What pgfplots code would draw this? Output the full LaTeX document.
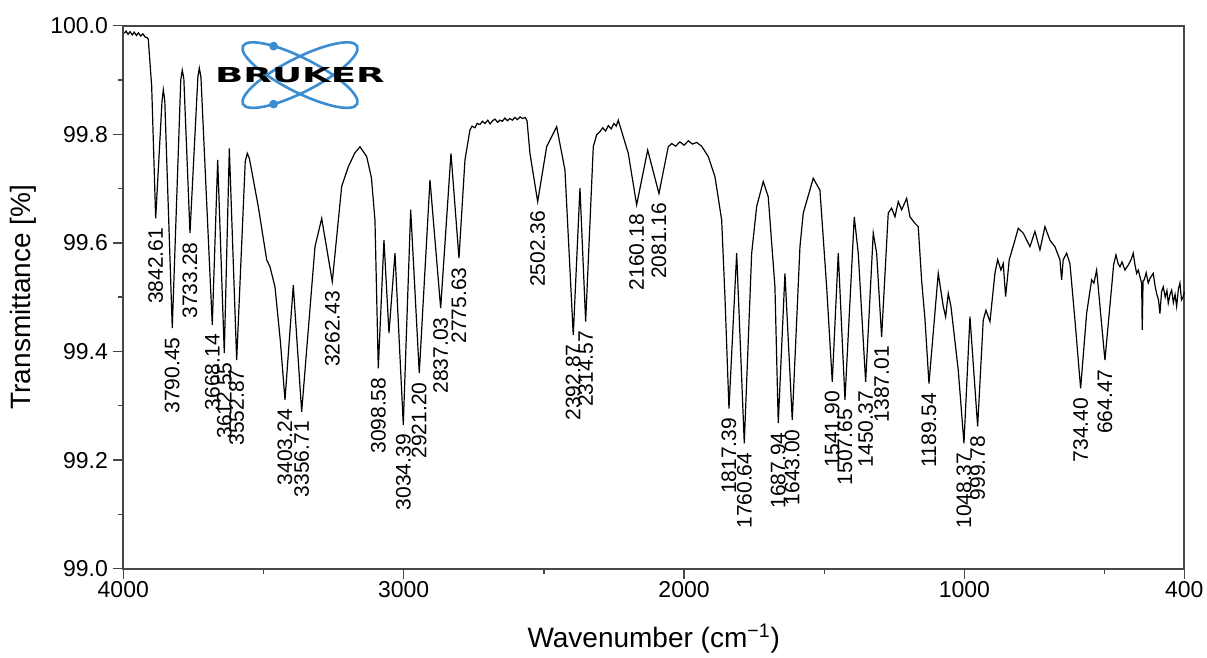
\documentclass[border=0pt]{standalone}
\usepackage{fontspec}
\setmainfont{Liberation Sans}
\newfontfamily\logofont{DejaVu Sans}
\usepackage{graphicx}
\usepackage{pgfplots}
\pgfplotsset{compat=1.18}
\usepackage{pgfplotstable}

\definecolor{logoblue}{RGB}{60,140,210}
\definecolor{axisgray}{RGB}{70,70,70}
\tikzset{lbl/.style={rotate=90, anchor=east, inner sep=0pt, font=\fontsize{10.5}{12}\selectfont}}

% wavenumber (as drawn on the linear axis) and transmittance
\pgfplotstableread{
wn T
3996.4 99.986
3990 99.990
3983 99.984
3976 99.989
3968 99.983
3961 99.988
3953 99.982
3946 99.987
3938 99.981
3930 99.985
3922 99.979
3915 99.978
3910.8 99.975
3898.7 99.888
3884.5 99.645
3862 99.860
3857.3 99.882
3852 99.862
3825.3 99.443
3795 99.900
3789.6 99.918
3784 99.902
3762.1 99.618
3734 99.905
3728.9 99.922
3723 99.905
3682.6 99.449
3663.3 99.753
3639.8 99.397
3621.8 99.774
3595.6 99.384
3565 99.750
3557.8 99.765
3550 99.755
3518.6 99.667
3488.6 99.569
3476.8 99.556
3459.0 99.519
3440 99.420
3423.3 99.311
3393.7 99.522
3363.8 99.289
3316.3 99.593
3292.4 99.645
3254.6 99.529
3221.1 99.704
3197.6 99.740
3175 99.765
3155.9 99.777
3131.9 99.759
3115 99.720
3102.4 99.642
3090.6 99.369
3070.3 99.605
3052.4 99.434
3031.0 99.581
3001.4 99.265
2975.0 99.661
2944.4 99.360
2906.2 99.716
2868.1 99.480
2831.3 99.765
2802.8 99.572
2781.4 99.753
2763.6 99.808
2756 99.815
2746 99.812
2738 99.820
2728 99.818
2719 99.824
2710 99.820
2700 99.826
2692 99.819
2683 99.825
2674 99.828
2665 99.822
2657 99.826
2648 99.824
2639 99.830
2630 99.825
2621 99.829
2612 99.826
2603 99.831
2594 99.827
2585 99.832
2576 99.829
2567 99.831
2560 99.825
2549.7 99.765
2522.1 99.676
2490.1 99.777
2454.4 99.814
2424.8 99.734
2395.2 99.430
2371.3 99.701
2351.0 99.455
2323.8 99.777
2311.7 99.799
2300 99.805
2290 99.812
2280 99.806
2270 99.816
2260 99.810
2250 99.820
2242 99.815
2234.7 99.826
2199.0 99.765
2169.1 99.670
2129.8 99.771
2089.6 99.691
2056.4 99.777
2044 99.783
2030 99.778
2015 99.786
2000 99.780
1985 99.788
1970 99.782
1955 99.785
1937.3 99.778
1913.7 99.759
1889.8 99.722
1865.9 99.642
1854.1 99.500
1839.9 99.295
1812.4 99.581
1785.3 99.231
1758.9 99.581
1741.1 99.667
1717.6 99.713
1699.8 99.685
1675.9 99.519
1664.1 99.268
1640.2 99.544
1614.2 99.274
1586.7 99.593
1574.9 99.655
1539.3 99.719
1515.4 99.697
1491.5 99.519
1471.5 99.344
1450.1 99.581
1426.2 99.311
1393.0 99.648
1378.8 99.581
1352.4 99.344
1325.3 99.618
1313.2 99.581
1295.4 99.427
1271.8 99.655
1259.7 99.664
1247.9 99.648
1236.1 99.676
1224.0 99.661
1206.2 99.682
1194.4 99.648
1176.6 99.636
1164.8 99.630
1152.7 99.530
1140.9 99.460
1126.6 99.341
1093.5 99.544
1075.6 99.483
1067.1 99.464
1057.8 99.507
1048.2 99.483
1022.2 99.366
1001.8 99.231
980.4 99.464
953.0 99.262
933.0 99.458
923.3 99.476
909.1 99.455
891.3 99.544
881.7 99.569
869.9 99.550
861.7 99.562
853.2 99.501
840.3 99.569
820.0 99.605
808.2 99.627
790.3 99.618
766.5 99.593
748.7 99.621
730.8 99.587
713.0 99.630
695.2 99.605
677.4 99.593
659.5 99.569
653.5 99.532
647.8 99.569
635.6 99.581
623.9 99.562
606.0 99.458
585.7 99.332
564.3 99.470
546.5 99.532
538.3 99.526
528.6 99.550
499.0 99.384
475.1 99.519
468 99.560
459.8 99.578
452 99.562
445.5 99.556
438 99.565
427.7 99.550
420 99.556
415.9 99.559
405 99.570
398.1 99.581
392 99.560
386.0 99.544
380 99.550
374.2 99.538
368 99.525
366.0 99.440
363 99.530
358.8 99.532
352 99.545
344.6 99.526
338 99.535
326.8 99.544
320 99.520
314.7 99.507
308 99.495
302.9 99.470
297 99.510
291.0 99.519
284 99.500
278 99.512
273.2 99.489
267 99.505
261.1 99.513
255 99.490
249 99.505
243.3 99.483
237 99.515
231.5 99.526
226 99.495
219.7 99.501
216 99.510
}\spectrum

\begin{document}
\begin{tikzpicture}
\begin{axis}[
  scale only axis, width=530.5pt, height=271.5pt,
  x dir=reverse, xmin=216, xmax=4000, ymin=99.0, ymax=100.0,
  xtick={216,1000,2000,3000,4000}, xticklabels={400,1000,2000,3000,4000},
  minor xtick={500,1500,2500,3500},
  ytick={99,99.2,99.4,99.6,99.8,100}, minor ytick={99.1,99.3,99.5,99.7,99.9},
  xtick pos=bottom, ytick pos=left,
  tick align=outside, major tick length=5pt, minor tick length=2.5pt,
  axis line style={line width=1pt, axisgray},
  every tick/.style={line width=0.7pt, axisgray},
  tick label style={font=\fontsize{11.5}{13}\selectfont},
  xticklabel style={inner sep=1pt},
  yticklabel style={inner sep=2.5pt, /pgf/number format/.cd, fixed, fixed zerofill, precision=1},
  /pgf/number format/assume math mode=true,
  xlabel={Wavenumber (cm\textsuperscript{−1})},
  ylabel={Transmittance [\%]},
  label style={font=\fontsize{14}{16}\selectfont},
  xlabel style={at={(axis description cs:0.5,-0.146)}, anchor=base, inner sep=0pt},
  ylabel style={at={(axis description cs:-0.0816,0.5)}, anchor=south, inner sep=0pt},
  clip=false,
]
\addplot[black, line width=0.6pt] table[x=wn, y=T] {\spectrum};

\node[lbl] at ([yshift=-4.5pt]axis cs:3884.5,99.645) {3842.61};
\node[lbl] at ([yshift=-4.5pt]axis cs:3825.3,99.443) {3790.45};
\node[lbl] at ([yshift=-4.5pt]axis cs:3762.1,99.618) {3733.28};
\node[lbl] at ([yshift=-4.5pt]axis cs:3682.6,99.449) {3668.14};
\node[lbl] at ([yshift=-4.5pt]axis cs:3639.8,99.397) {3612.55};
\node[lbl] at ([yshift=-4.5pt]axis cs:3595.6,99.384) {3552.87};
\node[lbl] at ([yshift=-4.5pt]axis cs:3423.3,99.311) {3403.24};
\node[lbl] at ([yshift=-4.5pt]axis cs:3363.8,99.289) {3356.71};
\node[lbl] at ([yshift=-4.5pt]axis cs:3254.6,99.529) {3262.43};
\node[lbl] at ([yshift=-4.5pt]axis cs:3090.6,99.369) {3098.58};
\node[lbl] at ([yshift=-4.5pt]axis cs:3001.4,99.265) {3034.39};
\node[lbl] at ([yshift=-4.5pt]axis cs:2944.4,99.360) {2921.20};
\node[lbl] at ([yshift=-4.5pt]axis cs:2868.1,99.480) {2837.03};
\node[lbl] at ([yshift=-4.5pt]axis cs:2802.8,99.572) {2775.63};
\node[lbl] at ([yshift=-4.5pt]axis cs:2522.1,99.676) {2502.36};
\node[lbl] at ([yshift=-4.5pt]axis cs:2395.2,99.430) {2392.87};
\node[lbl] at ([yshift=-4.5pt]axis cs:2351.0,99.455) {2314.57};
\node[lbl] at ([yshift=-4.5pt]axis cs:2169.1,99.670) {2160.18};
\node[lbl] at ([yshift=-4.5pt]axis cs:2089.6,99.691) {2081.16};
\node[lbl] at ([yshift=-4.5pt]axis cs:1839.9,99.295) {1817.39};
\node[lbl] at ([yshift=-4.5pt]axis cs:1785.3,99.231) {1760.64};
\node[lbl] at ([yshift=-4.5pt]axis cs:1664.1,99.268) {1687.94};
\node[lbl] at ([yshift=-4.5pt]axis cs:1614.2,99.274) {1643.00};
\node[lbl] at ([yshift=-4.5pt]axis cs:1471.5,99.344) {1541.90};
\node[lbl] at ([yshift=-4.5pt]axis cs:1426.2,99.311) {1507.65};
\node[lbl] at ([yshift=-4.5pt]axis cs:1352.4,99.344) {1450.37};
\node[lbl] at ([yshift=-4.5pt]axis cs:1295.4,99.427) {1387.01};
\node[lbl] at ([yshift=-4.5pt]axis cs:1126.6,99.341) {1189.54};
\node[lbl] at ([yshift=-4.5pt]axis cs:1001.8,99.231) {1048.37};
\node[lbl] at ([yshift=-4.5pt]axis cs:953.0,99.262) {999.78};
\node[lbl] at ([yshift=-4.5pt]axis cs:585.7,99.332) {734.40};
\node[lbl] at ([yshift=-4.5pt]axis cs:499.0,99.384) {664.47};

\coordinate (logo) at (axis cs:3369.8,99.909);
\coordinate (bl) at (rel axis cs:0,0);
\coordinate (tr) at (rel axis cs:1,1);
\end{axis}

% Bruker logo
\begin{scope}[shift={(logo)}]
  \draw[logoblue, line width=1.3pt, rotate=-27] (0,0) ellipse [x radius=32pt, y radius=8.5pt];
  \draw[logoblue, line width=1.3pt, rotate=27] (0,0) ellipse [x radius=32pt, y radius=8.5pt];
  \fill[logoblue] (-13.2pt,14.5pt) circle (2.2pt);
  \fill[logoblue] (-13.2pt,-14.5pt) circle (2.2pt);
  \node[inner sep=0pt] at (0,0) {\scalebox{1.8}[1]{\logofont\bfseries\fontsize{10.3}{12}\selectfont BRUKER}};
\end{scope}

\pgfresetboundingbox
\path (bl) ++(-61.65pt,-44.65pt) rectangle ([shift={(11.35pt,12.85pt)}]tr);
\end{tikzpicture}
\end{document}
